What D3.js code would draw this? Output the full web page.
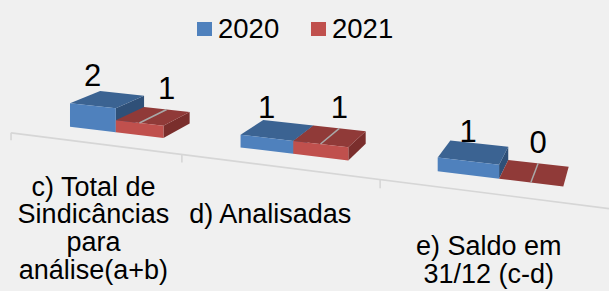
<!DOCTYPE html>
<html>
<head>
<meta charset="utf-8">
<script src="https://cdn.jsdelivr.net/npm/d3@7"></script>
<style>
  html, body { margin: 0; padding: 0; background: #f0f0f0; }
  svg { display: block; font-family: "Liberation Sans", Arial, sans-serif; }
</style>
</head>
<body>
<svg id="chart" width="609" height="291"></svg>
<script>
// ---------- data ----------
const categoryLines = [
  ["c) Total de", "Sindicâncias", "para", "análise(a+b)"],
  ["d) Analisadas"],
  ["e) Saldo em", "31/12 (c-d)"]
];
const categories = categoryLines.map(l => l.join(" "));
const series = ["2020", "2021"];
const values2020 = [2, 1, 1];
const values2021 = [1, 1, 0];

// ---------- styles ----------
const colors = {
  "2020": { front: "#4f81bd", top: "#3b6392", side: "#2f5078" },
  "2021": { front: "#c0504d", top: "#903a38", side: "#7a2e2c" }
};
const bg = "#f0f0f0";
const labelNudge = [0, -7, -3];

// ---------- scales ----------
const W = 609, H = 291;
const svg = d3.select("#chart");
svg.append("rect").attr("width", W).attr("height", H).attr("fill", bg);

const xAxisBand = d3.scaleBand().domain(categories).range([0, 3]);
const xBand = d3.scaleBand().domain(categories).range([0, 3])
  .paddingInner(0.435).paddingOuter(0.2175);
const xSub = d3.scaleBand().domain(series).range([0, xBand.bandwidth()]);
const yScale = d3.scaleLinear().domain([0, 2]).range([0, 23.2]);

// perspective projection (X: category units, Yh: height, Z: depth units)
const P = { x0: 35.9, xX: 152.1, xZ: 35.1, y0: 122.64, yX: 10.53, yZ: -7.02, c: -0.06647, d: 0.054 };
function proj(X, Yh, Z) {
  const w = 1 + P.c * X + P.d * Z;
  return [(P.x0 + P.xX * X + P.xZ * Z) / w, (P.y0 + P.yX * X + P.yZ * Z - Yh) / w];
}
const axisZ = -0.72;
const line = d3.line();

// ---------- axis ----------
const g = svg.append("g");
const axisPts = [0, 3].map(X => proj(X, 0, axisZ));
g.append("path").attr("d", line(axisPts))
  .attr("stroke", "#d6d6d6").attr("stroke-width", 1.6).attr("fill", "none");
const tickXs = categories.map(c => xAxisBand(c)).concat([3]);
tickXs.forEach(X => {
  g.append("path").attr("d", line([proj(X, 0, axisZ), proj(X, -7.2, axisZ)]))
    .attr("stroke", "#d6d6d6").attr("stroke-width", 1.6).attr("fill", "none");
});

// category labels
categories.forEach((c, i) => {
  const Xc = xAxisBand(c) + xAxisBand.bandwidth() / 2;
  const p = proj(Xc, -4.2 * 11.6, axisZ);
  const t = g.append("text").attr("text-anchor", "middle")
    .attr("font-size", 27).attr("fill", "#000");
  categoryLines[i].forEach((ln, k) => {
    t.append("tspan").attr("x", p[0] + labelNudge[i]).attr("y", p[1] + k * 27.6).text(ln);
  });
});

// ---------- bars ----------
const bars = [];
categories.forEach((c, i) => {
  series.forEach(s => {
    const v = (s === "2020" ? values2020 : values2021)[i];
    bars.push({ cat: c, s, v, X0: xBand(c) + xSub(s), X1: xBand(c) + xSub(s) + xSub.bandwidth() });
  });
});
bars.sort((a, b) => a.X0 - b.X0);

const barG = svg.append("g");
bars.forEach(b => {
  const h = yScale(b.v);
  const col = colors[b.s];
  const poly = pts => line(pts) + "Z";
  if (h > 0) {
    barG.append("path").attr("d", poly([proj(b.X1, 0, 0), proj(b.X1, 0, 1), proj(b.X1, h, 1), proj(b.X1, h, 0)]))
      .attr("fill", col.side);
  }
  barG.append("path").attr("d", poly([proj(b.X0, h, 0), proj(b.X1, h, 0), proj(b.X1, h, 1), proj(b.X0, h, 1)]))
    .attr("fill", col.top);
  if (h > 0) {
    barG.append("path").attr("d", poly([proj(b.X0, 0, 0), proj(b.X1, 0, 0), proj(b.X1, h, 0), proj(b.X0, h, 0)]))
      .attr("fill", col.front);
  }
});

// ---------- data labels ----------
const labG = svg.append("g");
bars.forEach(b => {
  const h = yScale(b.v);
  const Xc = (b.X0 + b.X1) / 2;
  if (b.s === "2020") {
    const p = proj(Xc, h, 0);
    labG.append("text").attr("x", p[0]).attr("y", p[1] - 19.5)
      .attr("text-anchor", "middle").attr("font-size", 31).text(b.v);
  } else {
    const p0 = proj(Xc, h, 0), p1 = proj(Xc, h, 1);
    labG.append("path").attr("d", line([p0, p1]))
      .attr("stroke", "#a9a9a9").attr("stroke-width", 1.5);
    labG.append("text").attr("x", p1[0]).attr("y", p1[1] - 10.5)
      .attr("text-anchor", "middle").attr("font-size", 31).text(b.v);
  }
});

// ---------- legend ----------
const legX = [197, 311];
series.forEach((s, i) => {
  const lg = svg.append("g").attr("transform", `translate(${legX[i]},0)`);
  lg.append("rect").attr("x", 0).attr("y", 22).attr("width", 15).attr("height", 14).attr("fill", colors[s].front);
  lg.append("text").attr("x", 21).attr("y", 37.5).attr("font-size", 27.5).text(s);
});
</script>
</body>
</html>
